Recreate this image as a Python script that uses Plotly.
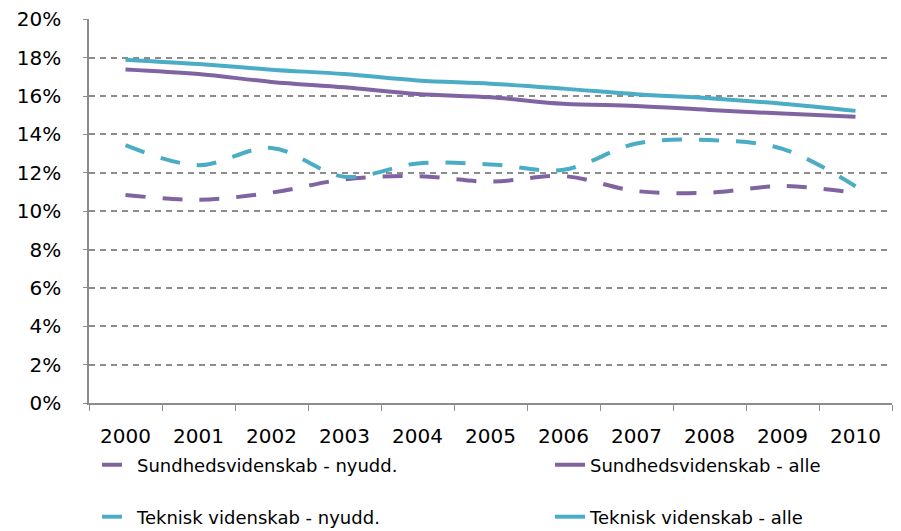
import plotly.graph_objects as go


# =============================
# Data (shares, in %)
# =============================
years = ["2000", "2001", "2002", "2003", "2004", "2005",
         "2006", "2007", "2008", "2009", "2010"]

sund_nyudd = [10.85, 10.6, 10.97, 11.66, 11.83, 11.54, 11.83, 11.05, 10.97, 11.31, 10.95]
sund_alle = [17.39, 17.15, 16.74, 16.46, 16.11, 15.94, 15.6, 15.49, 15.28, 15.09, 14.92]
tek_nyudd = [13.44, 12.4, 13.3, 11.8, 12.49, 12.44, 12.16, 13.53, 13.71, 13.25, 11.3]
tek_alle = [17.9, 17.67, 17.38, 17.15, 16.82, 16.65, 16.39, 16.1, 15.89, 15.6, 15.23]

y_ticks = [0, 2, 4, 6, 8, 10, 12, 14, 16, 18, 20]

PURPLE = "#8064A2"
CYAN = "#4BACC6"
FONT = "DejaVu Sans"

# page body has an 8px margin, so the figure is drawn 8px in from the corner
OFF = 8
W, H = 901 - OFF, 531 - OFF

# plot area in figure pixels
L, R, T, B = 89 - OFF, 892 - OFF, 19 - OFF, 403 - OFF


fig = go.Figure()

# name, values, colour, dash, legend id, legend position (figure px)
series = [
    ("Sundhedsvidenskab - nyudd.", sund_nyudd, PURPLE, "20px,17px", "legend", (89, 457)),
    ("Sundhedsvidenskab - alle", sund_alle, PURPLE, "solid", "legend2", (542, 457)),
    ("Teknisk videnskab - nyudd.", tek_nyudd, CYAN, "20px,17px", "legend3", (89, 509)),
    ("Teknisk videnskab - alle", tek_alle, CYAN, "solid", "legend4", (542, 509)),
]

legends = {}
for name, vals, color, dash, leg, pos in series:
    fig.add_trace(go.Scatter(
        x=years,
        y=[v / 100 for v in vals],
        mode="lines",
        name=name,
        legend=leg,
        showlegend=True,
        line=dict(color=color, width=4, dash=dash, shape="spline", smoothing=1),
    ))
    legends[leg] = dict(
        x=(pos[0] - L) / (R - L), y=(B - pos[1]) / (B - T),
        xanchor="left", yanchor="middle",
        bgcolor="rgba(0,0,0,0)",
        font=dict(size=18),
        visible=True,
    )


fig.update_layout(
    width=W,
    height=H,
    showlegend=True,
    margin=dict(l=L, r=W - R, t=T, b=H - B, autoexpand=False),
    paper_bgcolor="white",
    plot_bgcolor="white",
    font=dict(family=FONT, size=18, color="black"),
    **legends,
)

fig.update_xaxes(
    type="category",
    range=[-0.5, 10.5],
    tickson="boundaries",
    ticks="outside",
    ticklen=6,
    tickcolor="#8c8c8c",
    tickfont=dict(size=20),
    showline=True,
    linecolor="#8c8c8c",
    linewidth=1.5,
    showgrid=False,
    tickangle=0,
    ticklabelstandoff=14,
)

fig.update_yaxes(
    range=[0, 0.2002],
    tickvals=[t / 100 for t in y_ticks],
    ticktext=[f"{t}%" for t in y_ticks],
    tickfont=dict(size=20),
    ticklabeloverflow="allow",
    showline=True,
    linecolor="#8c8c8c",
    linewidth=1.5,
    ticks="outside",
    ticklen=4,
    tickcolor="#8c8c8c",
    showgrid=True,
    gridcolor="#8c8c8c",
    gridwidth=1.5,
    griddash="6px,5px",
    zeroline=False,
    ticklabelstandoff=18,
)

fig.write_html("out.html")
